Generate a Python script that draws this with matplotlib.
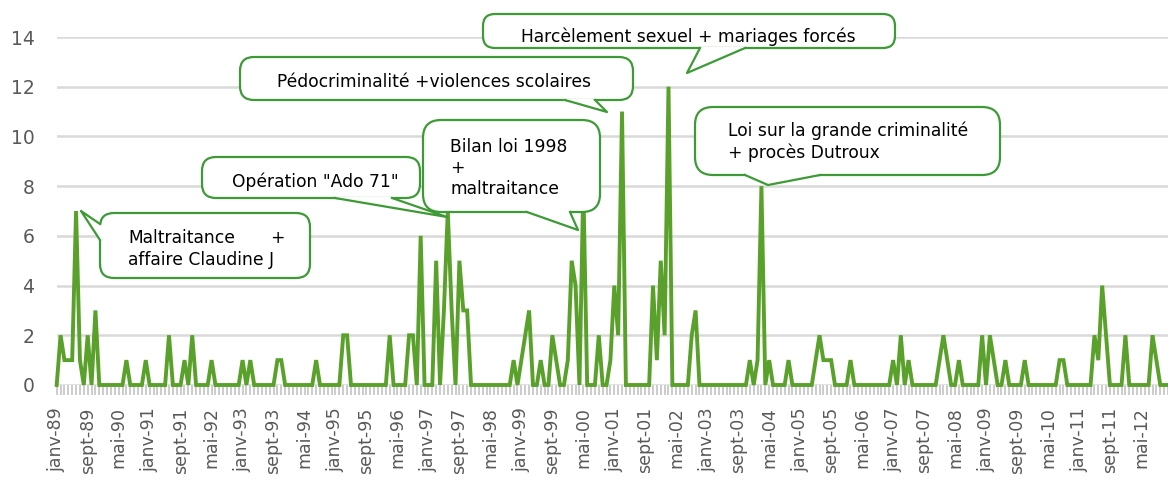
import numpy as np
import matplotlib
matplotlib.use("Agg")
import matplotlib.pyplot as plt
from matplotlib.patches import FancyBboxPatch, Polygon
from matplotlib.lines import Line2D
from matplotlib.transforms import IdentityTransform

# monthly counts, janv-89 .. déc-12
y1989 = [0, 2, 1, 1, 1, 7, 1, 0, 2, 0, 3, 0]
y1990 = [0, 0, 0, 0, 0, 0, 1, 0, 0, 0, 0, 1]
y1991 = [0, 0, 0, 0, 0, 2, 0, 0, 0, 1, 0, 2]
y1992 = [0, 0, 0, 0, 1, 0, 0, 0, 0, 0, 0, 0]
y1993 = [1, 0, 1, 0, 0, 0, 0, 0, 0, 1, 1, 0]
y1994 = [0, 0, 0, 0, 0, 0, 0, 1, 0, 0, 0, 0]
y1995 = [0, 0, 2, 2, 0, 0, 0, 0, 0, 0, 0, 0]
y1996 = [0, 0, 2, 0, 0, 0, 0, 2, 2, 0, 6, 0]
y1997 = [0, 0, 5, 0, 3, 7, 3, 0, 5, 3, 3, 0]
y1998 = [0, 0, 0, 0, 0, 0, 0, 0, 0, 0, 1, 0]
y1999 = [1, 2, 3, 0, 0, 1, 0, 0, 2, 1, 0, 0]
y2000 = [1, 5, 4, 0, 8, 0, 0, 0, 2, 0, 0, 1]
y2001 = [4, 2, 11, 0, 0, 0, 0, 0, 0, 0, 4, 1]
y2002 = [5, 2, 12, 0, 0, 0, 0, 0, 2, 3, 0, 0]
y2003 = [0, 0, 0, 0, 0, 0, 0, 0, 0, 0, 0, 1]
y2004 = [0, 1, 8, 0, 1, 0, 0, 0, 0, 1, 0, 0]
y2005 = [0, 0, 0, 0, 1, 2, 1, 1, 1, 0, 0, 0]
y2006 = [0, 1, 0, 0, 0, 0, 0, 0, 0, 0, 0, 0]
y2007 = [1, 0, 2, 0, 1, 0, 0, 0, 0, 0, 0, 0]
y2008 = [1, 2, 1, 0, 0, 1, 0, 0, 0, 0, 0, 2]
y2009 = [0, 2, 1, 0, 0, 1, 0, 0, 0, 0, 1, 0]
y2010 = [0, 0, 0, 0, 0, 0, 0, 1, 1, 0, 0, 0]
y2011 = [0, 0, 0, 0, 2, 1, 4, 2, 0, 0, 0, 0]
y2012 = [2, 0, 0, 0, 0, 0, 0, 2, 1, 0, 0, 0]

years = [y1989, y1990, y1991, y1992, y1993, y1994, y1995, y1996,
         y1997, y1998, y1999, y2000, y2001, y2002, y2003, y2004,
         y2005, y2006, y2007, y2008, y2009, y2010, y2011, y2012]
counts = [v for y in years for v in y]

tick_labels = ["janv-89", "sept-89", "mai-90", "janv-91", "sept-91", "mai-92",
               "janv-93", "sept-93", "mai-94", "janv-95", "sept-95", "mai-96",
               "janv-97", "sept-97", "mai-98", "janv-99", "sept-99", "mai-00",
               "janv-01", "sept-01", "mai-02", "janv-03", "sept-03", "mai-04",
               "janv-05", "sept-05", "mai-06", "janv-07", "sept-07", "mai-08",
               "janv-09", "sept-09", "mai-10", "janv-11", "sept-11", "mai-12"]

W, H = 1168, 480
GREEN = "#5aa12b"
EDGE = "#3d9a36"
GREY = "#595959"

fig = plt.figure(figsize=(W / 100, H / 100), dpi=100)
fig.patch.set_facecolor("white")

px_month = 3.887
x0 = 56.7
ax = fig.add_axes([x0 / W, 95 / H, (W - x0) / W, 348 / H])
x = np.arange(len(counts))
ax.plot(x, counts, color=GREEN, lw=2.8, solid_joinstyle="miter",
        clip_on=False, zorder=3)

ax.set_xlim(0, (W - x0) / px_month)
ax.set_ylim(0, 14)
ax.set_yticks(range(0, 15, 2))
ax.yaxis.grid(True, color="#d9d9d9", lw=1.8)
ax.set_axisbelow(True)
for s in ax.spines.values():
    s.set_visible(False)
ax.tick_params(axis="y", length=0, pad=16, labelsize=13.5, labelcolor=GREY)

ax.set_xticks(np.arange(0, len(tick_labels) * 8, 8))
ax.set_xticklabels(tick_labels, rotation=90)
ax.set_xticks(x, minor=True)
ax.tick_params(axis="x", which="both", direction="out", length=7, width=1.2,
               color="#c4c4c4", labelsize=12.5, labelcolor=GREY, pad=9)


def to_px(px, py):
    return px, H - py


def bubble(box, base, tip, r, text_items):
    bx0, by0, bx1, by1 = box
    l, b = to_px(bx0, by1)
    patch = FancyBboxPatch((l, b), bx1 - bx0, by1 - by0,
                           boxstyle=f"round,pad=0,rounding_size={r}",
                           transform=IdentityTransform(), facecolor="white",
                           edgecolor=EDGE, lw=1.6, zorder=5)
    fig.patches.append(patch)
    (ax1, ay1), (ax2, ay2) = base
    tx, ty = tip
    # white wedge hides the box outline under the pointer
    cx, cy = (bx0 + bx1) / 2, (by0 + by1) / 2
    pts = [(ax1 + (cx - ax1) * 0.02, ay1 + (cy - ay1) * 0.06), (ax1, ay1),
           (tx, ty), (ax2, ay2), (ax2 + (cx - ax2) * 0.02, ay2 + (cy - ay2) * 0.06)]
    poly = Polygon([to_px(*p) for p in pts], closed=True, facecolor="white",
                   edgecolor="none", transform=IdentityTransform(), zorder=6)
    fig.patches.append(poly)
    xs, ys = zip(*[to_px(*p) for p in [(ax1, ay1), (tx, ty), (ax2, ay2)]])
    fig.lines.append(Line2D(xs, ys, color=EDGE, lw=1.6,
                            transform=IdentityTransform(), zorder=7))
    for txt, px, py in text_items:
        fig.text(px / W, 1 - py / H, txt, fontsize=12.3, color="black",
                 va="center", ha="left", zorder=8)


bubble((100, 213, 310, 278), ((100, 224), (100, 240)), (81, 211), 14,
       [("Maltraitance", 128, 238), ("+", 270, 238),
        ("affaire Claudine J", 128, 260)])
bubble((202, 157, 420, 198), ((335, 198), (392, 198)), (447, 217), 14,
       [('Opération "Ado 71"', 232, 182)])
bubble((423, 120, 600, 212), ((527, 212), (570, 212)), (578, 230), 18,
       [("Bilan loi 1998", 450, 147), ("+", 450, 168),
        ("maltraitance", 450, 189)])
bubble((240, 57, 633, 100), ((565, 100), (595, 100)), (607, 112), 14,
       [("Pédocriminalité +violences scolaires", 277, 82)])
bubble((483, 14, 895, 48), ((700, 48), (745, 48)), (687, 73), 12,
       [("Harcèlement sexuel + mariages forcés", 521, 37)])
bubble((695, 107, 1000, 175), ((745, 175), (820, 175)), (768, 185), 18,
       [("Loi sur la grande criminalité", 728, 131),
        ("+ procès Dutroux", 728, 153)])

fig.savefig("out.png", dpi=100)
